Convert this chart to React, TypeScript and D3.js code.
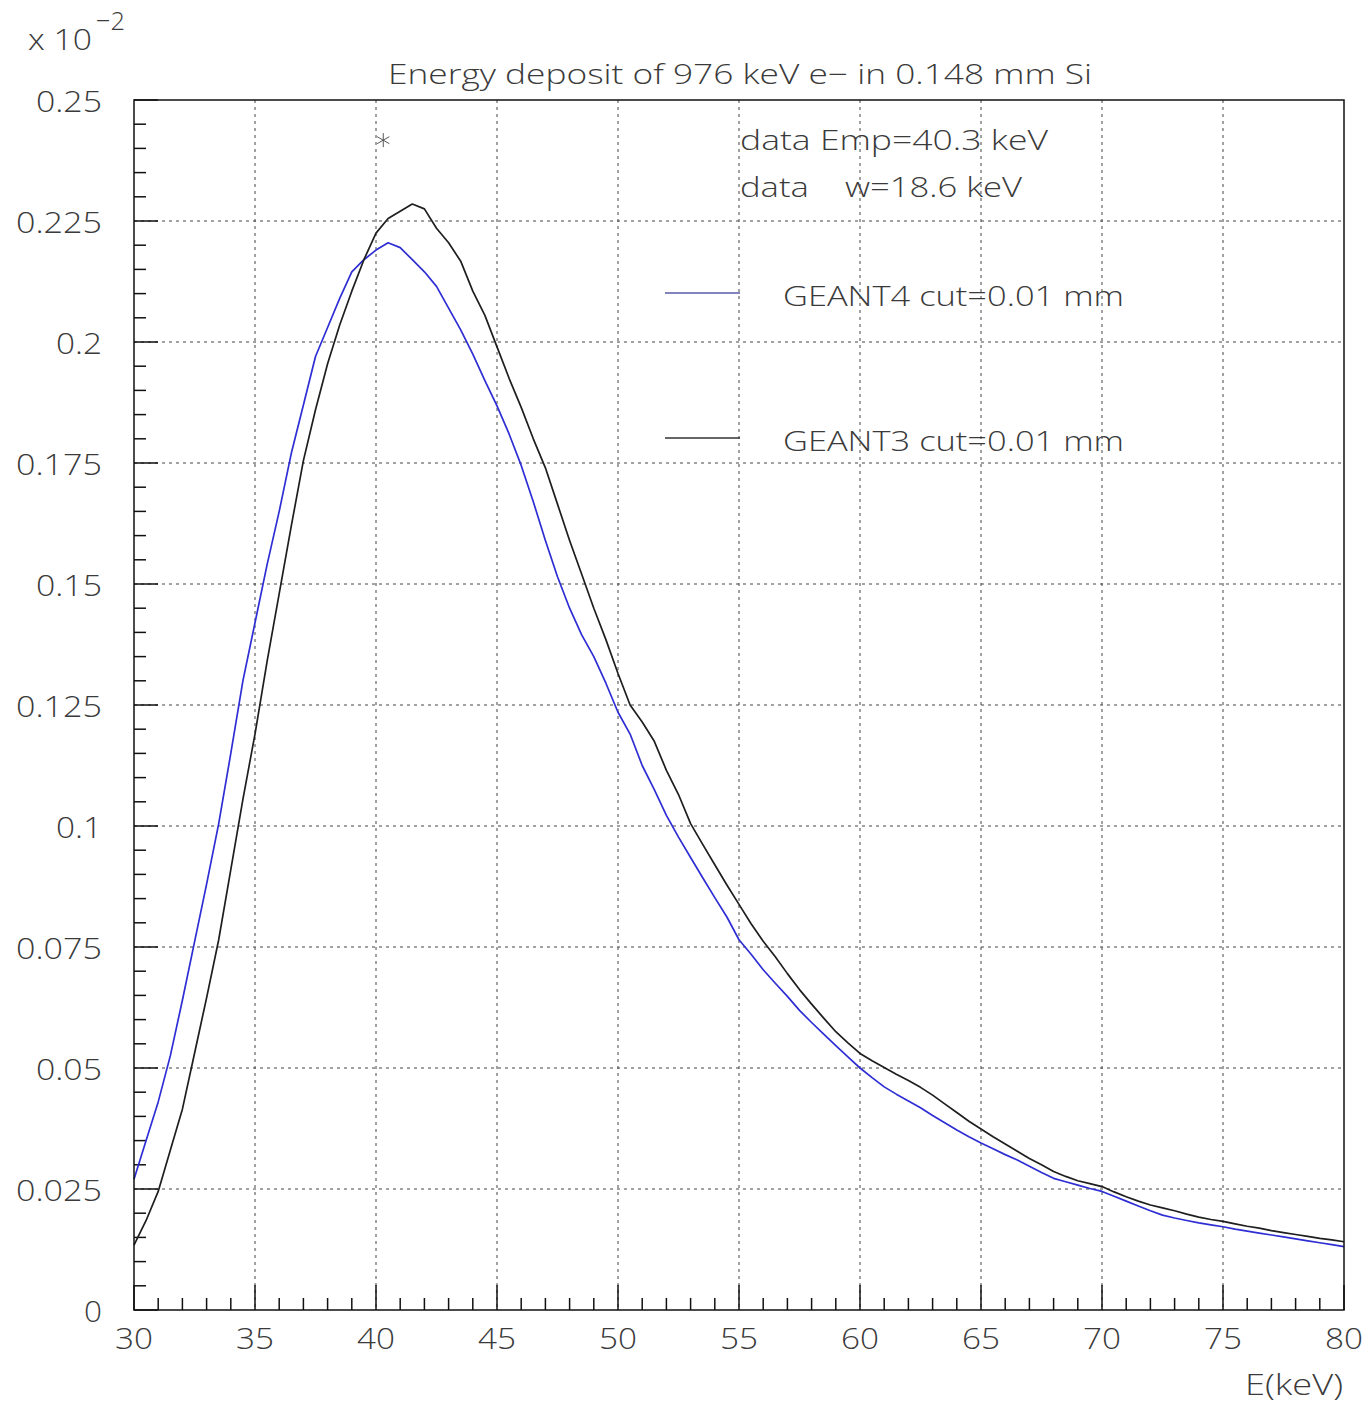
import React from "react";
import * as d3 from "d3";

// ---- data (units of 10^-2) ----
const BIN_START = 30;
const BIN_WIDTH = 0.5;

const geant4Values = [
  0.027, 0.035, 0.043, 0.0525, 0.064, 0.076, 0.088, 0.1005, 0.115, 0.13,
  0.142, 0.154, 0.165, 0.177, 0.187, 0.197, 0.203, 0.209, 0.2145, 0.217,
  0.219, 0.2205, 0.2195, 0.217, 0.2145, 0.2115, 0.207, 0.2025, 0.1975, 0.192,
  0.1868, 0.181, 0.1745, 0.167, 0.159, 0.1515, 0.145, 0.1395, 0.135, 0.1295,
  0.1235, 0.119, 0.1125, 0.1075, 0.1022, 0.0977, 0.0935, 0.0893, 0.0852, 0.0812,
  0.0765, 0.0735, 0.0703, 0.0675, 0.0648, 0.0619, 0.0594, 0.057, 0.0546, 0.0523,
  0.05, 0.048, 0.0461, 0.0446, 0.0432, 0.0418, 0.0402, 0.0387, 0.0372, 0.0358,
  0.0345, 0.0333, 0.0321, 0.031, 0.0297, 0.0284, 0.0272, 0.0265, 0.0258, 0.0251,
  0.0245, 0.0235, 0.0225, 0.0215, 0.0205, 0.0196, 0.019, 0.0185, 0.018, 0.0176,
  0.0172, 0.0167, 0.0163, 0.0159, 0.0155, 0.0151, 0.0147, 0.0143, 0.0139, 0.0135,
  0.0131,
];

const geant3Values = [
  0.0134, 0.0185, 0.0245, 0.033, 0.0415, 0.053, 0.0645, 0.0765, 0.091, 0.1055,
  0.119, 0.134, 0.148, 0.162, 0.1755, 0.186, 0.1955, 0.2035, 0.2105, 0.217,
  0.2225, 0.2255, 0.227, 0.2285, 0.2275, 0.2235, 0.2205, 0.2167, 0.2105, 0.2055,
  0.199, 0.1925, 0.1865, 0.18, 0.174, 0.1665, 0.159, 0.152, 0.145, 0.1385,
  0.1315, 0.125, 0.1215, 0.1175, 0.1115, 0.1065, 0.1005, 0.0962, 0.092, 0.0878,
  0.0838, 0.0798, 0.0762, 0.073, 0.0695, 0.0662, 0.0632, 0.0603, 0.0575, 0.0552,
  0.053, 0.0515, 0.0501, 0.0487, 0.0474, 0.046, 0.0444, 0.0426, 0.0408, 0.039,
  0.0374, 0.0358, 0.0343, 0.0328, 0.0313, 0.03, 0.0286, 0.0276, 0.0267, 0.0261,
  0.0255, 0.0244, 0.0234, 0.0225, 0.0217, 0.0211, 0.0205, 0.0198, 0.0192, 0.0187,
  0.0183, 0.0178, 0.0173, 0.0169, 0.0164, 0.016, 0.0156, 0.0152, 0.0148, 0.0145,
  0.0141,
];

const xTickLabels = ["30", "35", "40", "45", "50", "55", "60", "65", "70", "75", "80"];
const yTickLabels = ["0", "0.025", "0.05", "0.075", "0.1", "0.125", "0.15", "0.175", "0.2", "0.225", "0.25"];

const markerEmp = 40.3;
const markerValue = 0.2417;

const titleText = "Energy deposit of 976 keV e\u2212 in 0.148 mm Si";
const infoLines = ["data Emp=40.3 keV", "data    w=18.6 keV"];
const legendItems = [
  { label: "GEANT4 cut=0.01 mm", color: "#2e2ed4", lineColor: "#5a5aa8" },
  { label: "GEANT3 cut=0.01 mm", color: "#1e1e1e", lineColor: "#333333" },
];

// ---- layout ----
const W = 1370;
const H = 1403;
const left = 134;
const right = 1344;
const top = 100;
const bottom = 1310;
const FONT = "'Open Sans', 'DejaVu Sans', sans-serif";
const TXT = "#3a3a3a";

// width of a numeric label in the wide stroke font of the reference
const numWidth = (s: string) =>
  s.split("").reduce((a, c) => a + (c === "." ? 8 : 20), 0) - 2;

export default function App() {
  const x = d3.scaleLinear().domain([30, 80]).range([left, right]);
  const y = d3.scaleLinear().domain([0, 0.25]).range([bottom, top]);

  const mk = (vals: number[]) =>
    vals.map((v, i) => [BIN_START + i * BIN_WIDTH, v] as [number, number]);
  const line = d3
    .line<[number, number]>()
    .x((d) => x(d[0]))
    .y((d) => y(d[1]))
    .curve(d3.curveLinear);

  const xMajor = xTickLabels.map((t) => +t);
  const xMinor = d3.range(30, 80.001, 1).filter((v) => Math.abs(v % 5) > 1e-6);
  const yMajor = yTickLabels.map((t) => +t);
  const yMinor = d3.range(0, 0.2501, 0.005).filter(
    (v) => Math.abs(Math.round(v / 0.025) * 0.025 - v) > 1e-6
  );

  const mx = x(markerEmp);
  const my = y(markerValue);
  const s = 7;

  return (
    <svg
      width={W}
      height={H}
      style={{ position: "absolute", left: 0, top: 0, background: "#fff" }}
      fontFamily={FONT}
    >
      <rect x={0} y={0} width={W} height={H} fill="#fff" />
      {/* grid */}
      <g stroke="#444" strokeWidth={1} strokeDasharray="3,4">
        {xMajor.slice(1, -1).map((v) => (
          <line key={"gx" + v} x1={x(v)} x2={x(v)} y1={top} y2={bottom} />
        ))}
        {yMajor.slice(1, -1).map((v) => (
          <line key={"gy" + v} x1={left} x2={right} y1={y(v)} y2={y(v)} />
        ))}
      </g>
      {/* ticks */}
      <g stroke="#111" strokeWidth={1.5}>
        {xMajor.map((v) => (
          <line key={"tx" + v} x1={x(v)} x2={x(v)} y1={bottom} y2={bottom - 25} />
        ))}
        {xMinor.map((v) => (
          <line key={"tmx" + v} x1={x(v)} x2={x(v)} y1={bottom} y2={bottom - 12} />
        ))}
        {yMajor.map((v) => (
          <line key={"ty" + v} x1={left} x2={left + 24} y1={y(v)} y2={y(v)} />
        ))}
        {yMinor.map((v) => (
          <line key={"tmy" + v.toFixed(3)} x1={left} x2={left + 12} y1={y(v)} y2={y(v)} />
        ))}
      </g>
      {/* curves */}
      <path d={line(mk(geant4Values)) || ""} fill="none" stroke={legendItems[0].color} strokeWidth={1.7} strokeLinejoin="round" />
      <path d={line(mk(geant3Values)) || ""} fill="none" stroke={legendItems[1].color} strokeWidth={1.7} strokeLinejoin="round" />
      {/* frame */}
      <rect x={left} y={top} width={right - left} height={bottom - top} fill="none" stroke="#111" strokeWidth={1.5} />
      {/* marker */}
      <g stroke="#555" strokeWidth={1}>
        <line x1={mx} x2={mx} y1={my - s} y2={my + s} />
        <line x1={mx - s * 0.87} x2={mx + s * 0.87} y1={my - s / 2} y2={my + s / 2} />
        <line x1={mx - s * 0.87} x2={mx + s * 0.87} y1={my + s / 2} y2={my - s / 2} />
      </g>
      {/* tick labels */}
      <g fill={TXT} fontSize={30} fontWeight={300}>
        {yMajor.map((v, i) => (
          <text
            key={"ly" + v}
            x={102}
            y={y(v)}
            textAnchor="end"
            dominantBaseline="central"
            textLength={numWidth(yTickLabels[i])}
            lengthAdjust="spacingAndGlyphs"
          >
            {yTickLabels[i]}
          </text>
        ))}
        {xMajor.map((v, i) => (
          <text
            key={"lx" + v}
            x={x(v)}
            y={1337}
            textAnchor="middle"
            dominantBaseline="central"
            textLength={numWidth(xTickLabels[i])}
            lengthAdjust="spacingAndGlyphs"
          >
            {xTickLabels[i]}
          </text>
        ))}
        <text x={1343} y={1383} textAnchor="end" dominantBaseline="central" textLength={98} lengthAdjust="spacingAndGlyphs">
          E(keV)
        </text>
        <text x={28} y={38} dominantBaseline="central" textLength={64} lengthAdjust="spacingAndGlyphs">
          x 10
        </text>
        <text x={96} y={20} fontSize={26} dominantBaseline="central" textLength={29} lengthAdjust="spacingAndGlyphs">
          {"\u2212"}2
        </text>
        <text x={388} y={73} fontSize={28} textLength={704} lengthAdjust="spacingAndGlyphs" dominantBaseline="central">
          {titleText}
        </text>
        <text x={740} y={139} fontSize={28} textLength={308} lengthAdjust="spacingAndGlyphs" dominantBaseline="central" style={{ whiteSpace: "pre" }}>
          {infoLines[0]}
        </text>
        <text x={740} y={186} fontSize={28} textLength={282} lengthAdjust="spacingAndGlyphs" dominantBaseline="central" style={{ whiteSpace: "pre" }}>
          {infoLines[1]}
        </text>
      </g>
      {/* legend */}
      {legendItems.map((it, i) => {
        const ly = 293 + i * 145;
        return (
          <g key={it.label}>
            <line x1={665} x2={740} y1={ly} y2={ly} stroke={it.lineColor} strokeWidth={1.5} />
            <text
              x={783}
              y={ly + 2}
              fill={TXT}
              fontSize={28}
              fontWeight={300}
              textLength={341}
              lengthAdjust="spacingAndGlyphs"
              dominantBaseline="central"
            >
              {it.label}
            </text>
          </g>
        );
      })}
    </svg>
  );
}
